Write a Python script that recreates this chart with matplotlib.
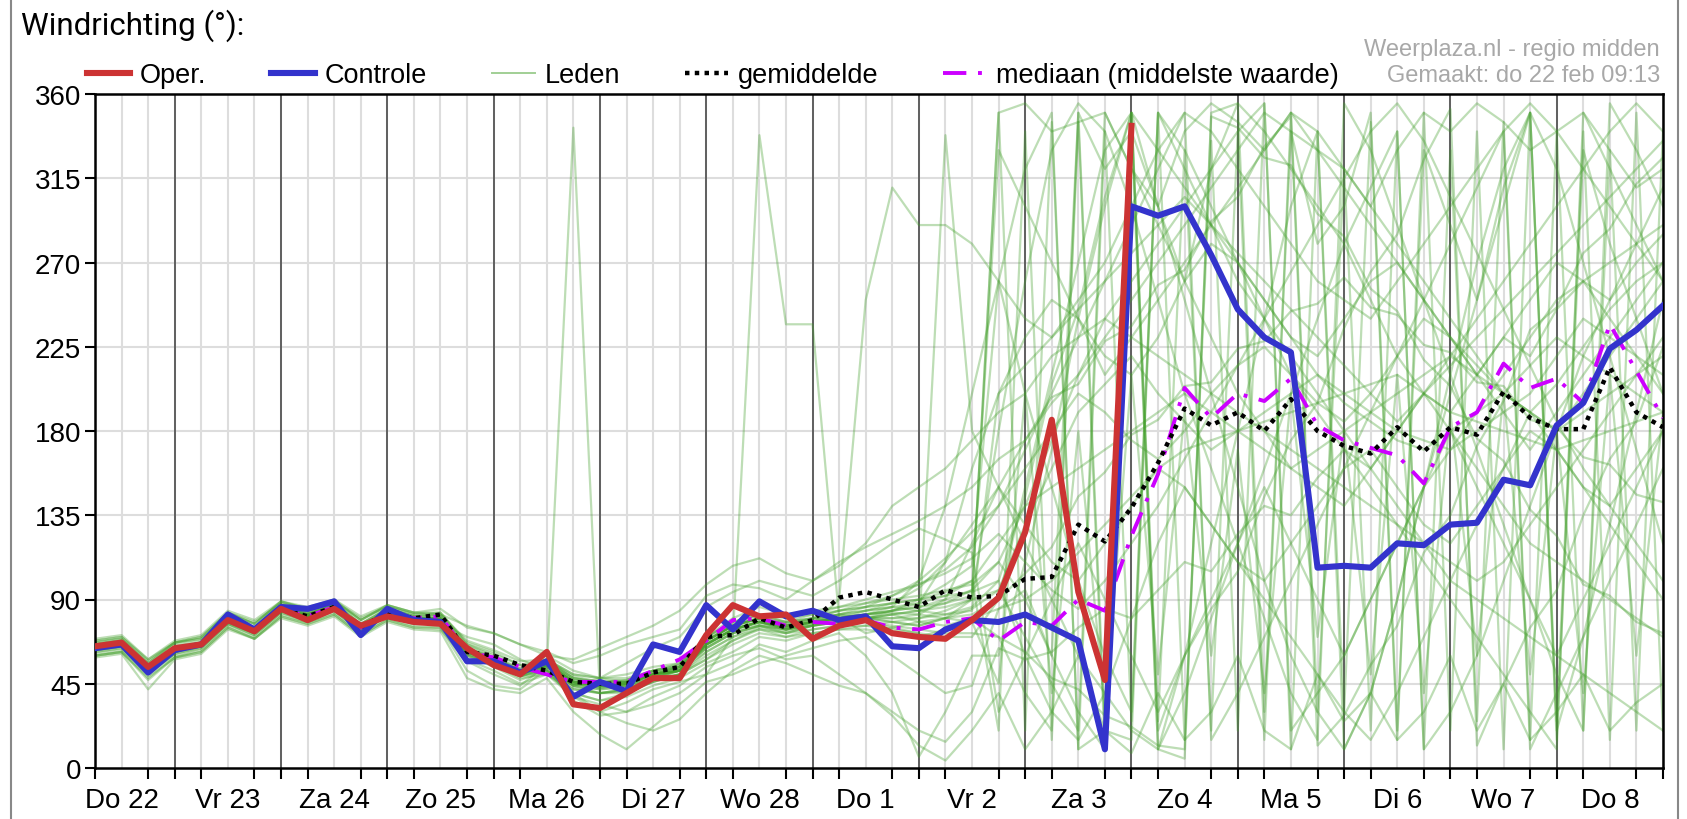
import matplotlib.pyplot as plt
import numpy as np
from matplotlib.lines import Line2D
from matplotlib.ticker import FixedLocator

# tijdstappen in uren vanaf do 22 feb 00:00 (elke 6 uur)
uren = np.arange(6, 361, 6)
dagen = ["Do 22", "Vr 23", "Za 24", "Zo 25", "Ma 26", "Di 27", "Wo 28", "Do 1",
         "Vr 2", "Za 3", "Zo 4", "Ma 5", "Di 6", "Wo 7", "Do 8"]
y_ticks = [0, 45, 90, 135, 180, 225, 270, 315, 360]

# operationele run (10 dagen)
oper = [65, 67, 54, 64, 66, 79, 73, 85, 79, 85, 76, 81, 78, 77, 64, 55, 50, 62, 34, 32,
        40, 48, 48, 71, 87, 81, 82, 69, 76, 79, 72, 70, 69, 79, 91, 126, 186, 94, 47, 343]

controle = [64, 66, 51, 63, 66, 82, 74, 86, 85, 89, 71, 85, 79, 78, 57, 57, 51, 57, 38, 46,
            41, 66, 62, 87, 74, 89, 81, 84, 79, 81, 65, 64, 74, 79, 78, 82, 75, 68, 10, 300,
            295, 300, 274, 245, 230, 222, 107, 108, 107, 120, 119, 130, 131, 154, 151, 183, 195, 224, 234, 247]

gemiddelde = [64, 66, 53, 63, 66, 79, 73, 85, 81, 86, 75, 83, 80, 82, 62, 60, 55, 52, 46, 45,
              45, 51, 54, 70, 71, 80, 75, 79, 91, 94, 90, 86, 95, 91, 92, 101, 102, 130, 121, 139,
              163, 192, 183, 190, 180, 197, 180, 172, 168, 182, 169, 182, 178, 201, 187, 181, 181, 214, 190, 182]

mediaan = [64, 66, 53, 63, 66, 79, 73, 85, 81, 86, 75, 83, 80, 81, 62, 59, 54, 50, 46, 46,
           46, 52, 58, 68, 79, 80, 76, 78, 77, 79, 75, 74, 78, 80, 68, 78, 76, 90, 84, 124,
           157, 203, 187, 200, 196, 208, 183, 175, 171, 167, 152, 182, 190, 216, 203, 208, 195, 237, 212, 187]

# ensembleleden (geschat uit de grafiek)
leden = [
    [63, 67, 51, 62, 65, 80, 72, 86, 82, 87, 74, 84, 80, 80, 60, 54, 47,
     52, 40, 36, 40, 46, 50, 58, 68, 75, 72, 76, 80, 82, 84, 86, 90, 95,
     110, 140, 175, 210, 240, 260, 280, 300, 320, 340, 355, 20, 40, 60, 90, 120, 150, 170, 190, 210, 230, 250, 260, 270, 280, 290],
    [68, 70, 58, 67, 70, 83, 78, 88, 85, 89, 80, 86, 82, 82, 68, 63, 57,
     58, 48, 46, 47, 52, 55, 70, 76, 80, 77, 79, 82, 80, 78, 76, 80, 85,
     95, 130, 160, 190, 205, 220, 200, 185, 170, 180, 190, 200, 210, 195, 185, 175, 170, 180, 190, 200, 215, 230, 220, 210, 200, 190],
    [62, 64, 50, 61, 65, 82, 75, 87, 83, 88, 77, 85, 81, 82, 76, 72, 66,
     62, 56, 60, 66, 70, 74, 92, 98, 96, 90, 100, 110, 118, 125, 132, 140, 150,
     165, 175, 198, 205, 228, 236, 258, 266, 292, 305, 332, 348, 12, 28, 55, 76, 115, 135, 172, 196, 234, 246, 275, 288, 312, 326],
    [64, 67, 52, 63, 66, 79, 73, 84, 81, 85, 75, 83, 79, 79, 63, 57, 49,
     54, 342, 40, 42, 48, 52, 62, 70, 76, 74, 76, 78, 80, 82, 78, 76, 80,
     70, 62, 48, 42, 28, 22, 12, 10, 348, 342, 326, 322, 296, 284, 256, 244, 218, 204, 176, 164, 138, 124, 98, 92, 78, 72],
    [69, 71, 58, 68, 71, 84, 79, 89, 86, 90, 81, 87, 83, 82, 66, 60, 53,
     50, 38, 30, 35, 42, 46, 50, 70, 338, 237, 237, 80, 72, 75, 78, 80, 82,
     90, 104, 118, 145, 158, 178, 186, 204, 206, 224, 228, 244, 248, 262, 246, 242, 226, 222, 206, 204, 186, 182, 166, 162, 146, 142],
    [63, 65, 52, 62, 67, 77, 72, 85, 80, 86, 74, 82, 78, 77, 60, 56, 51,
     56, 47, 44, 44, 48, 50, 66, 74, 78, 74, 77, 90, 250, 310, 290, 290, 280,
     260, 240, 230, 250, 270, 300, 330, 350, 340, 320, 300, 280, 260, 250, 240, 260, 280, 300, 320, 340, 355, 340, 320, 300, 280, 260],
    [65, 66, 54, 64, 66, 80, 74, 85, 82, 86, 76, 83, 79, 80, 64, 59, 53,
     60, 52, 48, 46, 50, 54, 68, 76, 80, 76, 78, 80, 78, 75, 72, 338, 180,
     150, 120, 90, 60, 40, 20, 10, 5, 350, 355, 340, 320, 300, 280, 250, 220, 200, 180, 160, 140, 120, 110, 100, 90, 80, 70],
    [60, 62, 48, 59, 62, 75, 69, 81, 77, 82, 71, 79, 75, 74, 57, 50, 44,
     55, 40, 30, 24, 20, 26, 40, 52, 60, 56, 50, 44, 40, 30, 20, 14, 30,
     64, 58, 62, 75, 85, 80, 95, 110, 105, 125, 140, 135, 155, 170, 160, 180, 200, 190, 210, 230, 220, 245, 260, 250, 270, 285],
    [64, 65, 53, 62, 66, 79, 74, 86, 81, 86, 75, 82, 80, 79, 63, 58, 52,
     58, 50, 48, 50, 54, 56, 70, 80, 86, 82, 84, 86, 88, 90, 92, 95, 98,
     110, 90, 60, 30, 10, 350, 330, 310, 290, 270, 250, 230, 210, 200, 190, 180, 175, 170, 180, 190, 200, 220, 240, 230, 220, 210],
    [59, 61, 42, 58, 61, 74, 69, 80, 76, 81, 70, 78, 74, 73, 48, 42, 40,
     48, 30, 18, 10, 22, 34, 46, 50, 56, 60, 64, 68, 70, 60, 50, 40, 44,
     85, 90, 100, 115, 130, 145, 160, 170, 175, 180, 185, 190, 195, 200, 205, 210, 200, 190, 185, 180, 175, 170, 175, 180, 185, 190],
    [65, 67, 54, 64, 67, 80, 73, 85, 82, 87, 76, 84, 80, 80, 63, 58, 51,
     54, 44, 40, 42, 48, 52, 66, 74, 78, 76, 78, 80, 82, 86, 100, 140, 200,
     260, 320, 350, 10, 20, 15, 350, 320, 290, 260, 240, 220, 200, 180, 160, 140, 120, 100, 90, 80, 70, 60, 50, 40, 30, 20],
    [64, 66, 53, 63, 66, 79, 73, 85, 81, 86, 75, 83, 79, 79, 62, 57, 50,
     56, 46, 44, 46, 52, 54, 68, 76, 80, 78, 80, 84, 86, 88, 90, 92, 94,
     100, 145, 205, 245, 305, 350, 20, 60, 85, 105, 145, 175, 195, 235, 265, 285, 325, 352, 12, 45, 75, 95, 135, 165, 185, 225],
    [60, 62, 47, 59, 63, 76, 70, 82, 78, 83, 72, 80, 76, 75, 52, 44, 42,
     53, 36, 28, 30, 38, 44, 54, 60, 64, 58, 60, 50, 40, 28, 12, 4, 20,
     40, 10, 30, 60, 20, 8, 40, 15, 30, 60, 20, 10, 50, 25, 40, 15, 30, 60, 20, 45, 15, 30, 50, 20, 35, 45],
    [64, 66, 53, 63, 66, 79, 74, 85, 81, 86, 75, 83, 79, 79, 62, 57, 50,
     57, 48, 46, 46, 50, 52, 66, 74, 78, 74, 78, 80, 84, 88, 96, 110, 130,
     150, 175, 195, 210, 230, 250, 270, 290, 310, 330, 350, 340, 330, 320, 300, 280, 260, 240, 220, 200, 190, 180, 200, 220, 240, 260],
    [67, 69, 56, 67, 69, 83, 77, 88, 84, 89, 79, 86, 82, 83, 67, 62, 55,
     55, 46, 44, 45, 50, 52, 66, 74, 78, 75, 78, 80, 80, 78, 76, 80, 90,
     350, 355, 340, 345, 350, 320, 300, 340, 355, 345, 330, 350, 340, 320, 300, 330, 350, 340, 355, 345, 330, 340, 350, 330, 310, 320],
    [63, 66, 52, 63, 65, 78, 72, 84, 80, 85, 74, 82, 78, 78, 61, 56, 49,
     52, 42, 40, 42, 48, 50, 62, 70, 74, 72, 74, 76, 76, 74, 72, 70, 70,
     90, 150, 210, 270, 330, 350, 300, 250, 200, 150, 100, 60, 30, 10, 40, 90, 150, 200, 250, 300, 350, 320, 270, 220, 170, 120],
    [64, 65, 53, 62, 66, 80, 74, 85, 81, 86, 75, 83, 79, 79, 62, 57, 50,
     56, 46, 44, 46, 50, 52, 68, 76, 80, 76, 80, 82, 84, 86, 88, 110, 160,
     200, 230, 250, 240, 220, 210, 230, 260, 280, 270, 250, 230, 220, 240, 260, 270, 250, 230, 210, 230, 250, 270, 260, 240, 220, 200],
    [64, 66, 53, 63, 67, 79, 73, 85, 81, 86, 75, 83, 79, 79, 63, 57, 51,
     55, 45, 43, 44, 50, 52, 64, 72, 76, 74, 76, 78, 80, 80, 82, 90, 120,
     150, 130, 110, 100, 120, 140, 160, 150, 130, 110, 100, 120, 140, 160, 170, 150, 130, 120, 140, 160, 180, 170, 150, 140, 160, 180],
    [68, 70, 57, 67, 69, 82, 77, 89, 85, 89, 79, 87, 83, 85, 75, 72, 66,
     60, 58, 64, 70, 76, 84, 98, 108, 112, 104, 100, 108, 120, 140, 150, 160, 175,
     190, 200, 220, 230, 240, 230, 220, 210, 200, 190, 180, 170, 160, 150, 140, 130, 120, 110, 100, 110, 130, 150, 170, 190, 210, 230],
    [60, 62, 49, 59, 62, 75, 69, 81, 77, 82, 71, 79, 75, 75, 58, 52, 45,
     50, 40, 36, 38, 44, 48, 56, 62, 70, 68, 72, 74, 76, 78, 80, 84, 90,
     95, 70, 45, 20, 350, 320, 290, 260, 230, 200, 180, 160, 150, 140, 160, 180, 200, 220, 240, 260, 280, 300, 320, 340, 355, 340],
    [64, 66, 53, 63, 66, 79, 73, 85, 81, 86, 75, 83, 79, 79, 62, 57, 50,
     55, 45, 44, 45, 50, 52, 66, 74, 78, 75, 78, 80, 82, 84, 86, 88, 92,
     180, 260, 330, 355, 340, 300, 250, 200, 160, 120, 80, 40, 15, 355, 330, 290, 250, 210, 170, 130, 90, 50, 20, 355, 330, 300],
    [64, 66, 52, 63, 66, 80, 73, 85, 81, 86, 75, 83, 79, 79, 62, 57, 50,
     56, 46, 44, 45, 50, 53, 66, 74, 78, 75, 78, 80, 82, 84, 88, 92, 100,
     120, 140, 150, 160, 170, 180, 190, 200, 190, 180, 170, 160, 170, 180, 190, 200, 210, 220, 210, 200, 190, 180, 190, 200, 210, 220],
    [61, 63, 51, 60, 64, 77, 71, 83, 78, 84, 73, 81, 77, 77, 70, 66, 58,
     52, 44, 48, 56, 64, 70, 86, 94, 100, 96, 92, 100, 110, 120, 128, 122, 115,
     30, 60, 90, 120, 90, 60, 30, 60, 90, 120, 150, 120, 90, 60, 90, 120, 150, 180, 150, 120, 90, 60, 90, 120, 150, 180],
    [67, 69, 56, 67, 70, 83, 77, 89, 85, 90, 79, 87, 83, 83, 66, 61, 55,
     58, 50, 48, 48, 52, 55, 70, 78, 82, 80, 82, 84, 86, 88, 90, 94, 100,
     20, 340, 15, 345, 10, 350, 25, 330, 20, 340, 15, 350, 30, 320, 20, 340, 10, 330, 25, 345, 15, 340, 20, 330, 20, 340],
    [64, 66, 53, 63, 66, 79, 73, 85, 81, 86, 75, 83, 79, 79, 62, 57, 50,
     55, 45, 43, 45, 50, 52, 66, 74, 78, 75, 78, 80, 80, 82, 84, 86, 90,
     350, 20, 345, 10, 340, 25, 350, 15, 335, 20, 355, 10, 340, 30, 345, 15, 350, 20, 340, 10, 350, 25, 340, 15, 350, 20],
    [63, 65, 52, 63, 65, 78, 73, 84, 80, 85, 74, 82, 78, 78, 61, 56, 49,
     52, 38, 34, 30, 34, 40, 50, 56, 66, 62, 68, 72, 60, 40, 6, 30, 60,
     60, 110, 170, 240, 300, 350, 10, 60, 120, 180, 240, 300, 340, 10, 40, 90, 150, 210, 270, 320, 350, 20, 70, 130, 190, 250],
    [66, 68, 55, 66, 68, 81, 75, 87, 83, 88, 77, 85, 81, 81, 65, 59, 52,
     57, 48, 45, 46, 51, 54, 68, 76, 82, 78, 80, 84, 88, 92, 98, 106, 118,
     140, 170, 200, 230, 260, 290, 320, 350, 15, 40, 70, 100, 130, 160, 190, 220, 250, 280, 310, 340, 10, 40, 70, 100, 130, 160],
    [62, 64, 51, 61, 64, 77, 71, 83, 79, 84, 73, 81, 77, 77, 60, 55, 48,
     50, 42, 40, 40, 46, 50, 58, 66, 72, 70, 72, 74, 74, 72, 70, 74, 80,
     85, 95, 60, 350, 20, 340, 300, 260, 320, 355, 30, 340, 280, 300, 350, 20, 330, 290, 250, 310, 350, 15, 330, 280, 240, 200],
    [65, 67, 53, 64, 66, 80, 74, 86, 82, 87, 76, 84, 80, 80, 63, 58, 51,
     56, 46, 44, 45, 50, 54, 68, 76, 80, 76, 78, 82, 86, 92, 100, 112, 126,
     140, 160, 180, 200, 190, 175, 165, 180, 200, 215, 225, 210, 195, 185, 200, 220, 240, 230, 215, 200, 190, 205, 225, 245, 260, 270],
    [64, 65, 52, 62, 65, 78, 72, 84, 80, 85, 74, 82, 78, 78, 61, 56, 49,
     53, 43, 40, 41, 46, 50, 60, 68, 74, 70, 74, 76, 78, 76, 74, 72, 72,
     70, 40, 20, 350, 320, 340, 10, 40, 80, 120, 160, 200, 240, 280, 310, 340, 10, 30, 60, 100, 140, 180, 220, 250, 280, 310],
    [66, 68, 54, 65, 67, 80, 75, 87, 83, 88, 77, 85, 81, 81, 64, 59, 52,
     58, 49, 46, 47, 52, 56, 70, 78, 82, 78, 82, 86, 90, 94, 98, 104, 112,
     125, 110, 95, 85, 100, 120, 140, 165, 190, 215, 240, 265, 290, 315, 340, 355, 335, 305, 275, 245, 215, 185, 160, 140, 120, 100],
    [63, 65, 52, 62, 66, 79, 73, 85, 81, 86, 75, 83, 79, 79, 62, 57, 50,
     54, 44, 42, 44, 49, 52, 64, 72, 76, 72, 76, 78, 80, 84, 90, 98, 108,
     260, 200, 150, 100, 60, 30, 350, 330, 300, 270, 240, 210, 190, 170, 150, 130, 110, 90, 70, 50, 30, 10, 350, 320, 290, 260],
    [65, 66, 54, 64, 66, 80, 74, 85, 82, 86, 76, 83, 80, 80, 64, 58, 52,
     57, 47, 45, 46, 51, 54, 68, 76, 80, 77, 80, 82, 84, 86, 84, 82, 84,
     200, 215, 230, 245, 260, 275, 290, 305, 290, 275, 260, 245, 230, 215, 200, 185, 200, 215, 230, 245, 260, 275, 290, 305, 320, 335],
    [64, 66, 53, 63, 66, 79, 73, 85, 81, 86, 75, 83, 79, 79, 62, 57, 50,
     55, 45, 43, 44, 49, 52, 65, 73, 77, 74, 77, 79, 80, 80, 80, 82, 86,
     100, 60, 30, 15, 40, 80, 120, 150, 130, 110, 90, 70, 50, 30, 15, 40, 70, 100, 130, 160, 190, 170, 150, 130, 110, 90],
    [63, 66, 53, 63, 65, 79, 73, 84, 80, 85, 75, 83, 79, 78, 62, 57, 50,
     54, 44, 42, 43, 48, 52, 64, 72, 76, 73, 76, 78, 80, 82, 84, 88, 95,
     330, 300, 270, 240, 210, 230, 250, 270, 290, 310, 330, 350, 330, 310, 290, 270, 250, 230, 210, 190, 170, 190, 210, 230, 250, 270],
    [65, 67, 54, 64, 67, 80, 74, 86, 82, 87, 76, 84, 80, 80, 63, 58, 51,
     56, 46, 44, 45, 50, 53, 67, 75, 79, 76, 79, 81, 82, 83, 82, 80, 78,
     45, 200, 40, 180, 30, 210, 50, 190, 60, 170, 40, 200, 70, 180, 50, 210, 40, 190, 60, 200, 50, 180, 40, 210, 60, 190],
]

W, H = 1687, 820
ROOD = "#cc3333"
BLAUW = "#3333cc"
GROEN = "#44a02c"
PAARS = "#cc00ff"
FONT = "Liberation Sans"

fig = plt.figure(figsize=(W / 100, H / 100), dpi=100)
ax = fig.add_axes([95 / W, 51 / H, (1663 - 95) / W, (769 - 95) / H])

# raster
for h in range(6, 361, 6):
    ax.axvline(h, color="#dddddd", lw=1.5, zorder=0)
for v in y_ticks[1:-1]:
    ax.axhline(v, color="#dddddd", lw=1.5, zorder=0)
for h in range(24, 360, 24):
    ax.axvline(h, color="#555555", lw=1.3, zorder=1)

for m in leden:
    assert len(m) == len(uren)
    ax.plot(uren, m, color=GROEN, lw=1.6, alpha=0.35, zorder=2)

ax.plot(uren, mediaan, color=PAARS, lw=2.8, ls=(0, (6, 3, 1, 3)), zorder=3)
ax.plot(uren, gemiddelde, color="black", lw=3.2, ls=(0, (1, 1.2)), zorder=4)
ax.plot(uren, controle, color=BLAUW, lw=4.4, zorder=5)
ax.plot(uren[:len(oper)], oper, color=ROOD, lw=4.4, zorder=6)

ax.set_xlim(6, 360)
ax.set_ylim(0, 360)
ax.set_yticks(y_ticks)
ax.set_xticks(np.arange(12, 360, 24))
ax.set_xticklabels(dagen)
ax.xaxis.set_minor_locator(FixedLocator(range(6, 361, 6)))
ax.tick_params(axis="x", which="major", length=0, pad=14)
ax.tick_params(axis="x", which="minor", length=8, width=1.5, color="black")
ax.tick_params(axis="y", length=7, width=1.5, pad=3)
for lab in ax.get_xticklabels() + ax.get_yticklabels():
    lab.set_fontfamily(FONT)
    lab.set_fontsize(20)
for s in ax.spines.values():
    s.set_linewidth(1.8)

# legenda
handles = [
    Line2D([], [], color=ROOD, lw=4.4),
    Line2D([], [], color=BLAUW, lw=4.4),
    Line2D([], [], color=GROEN, lw=1.4, alpha=0.5),
    Line2D([], [], color="black", lw=3.2, ls=(0, (1, 1.2))),
    Line2D([], [], color=PAARS, lw=2.8, ls=(0, (6, 3, 1, 3))),
]
labels = ["Oper.", "Controle", "Leden", "gemiddelde", "mediaan (middelste waarde)"]
ax.legend(handles, labels, loc="center left", bbox_to_anchor=(87 / W, 1 - 76 / H),
          bbox_transform=fig.transFigure, ncol=5, frameon=False,
          prop={"family": FONT, "size": 19.5}, handlelength=1.6, handletextpad=0.35,
          columnspacing=2.4, borderpad=0, borderaxespad=0)

fig.text(21 / W, 1 - 26 / H, "Windrichting (°):", fontsize=22.5, family="Roboto", va="center")
fig.text(1660 / W, 1 - 50 / H, "Weerplaza.nl - regio midden", ha="right", va="center",
         color="#a8a8a8", fontsize=17, family=FONT)
fig.text(1660 / W, 1 - 76 / H, "Gemaakt: do 22 feb 09:13", ha="right", va="center",
         color="#a8a8a8", fontsize=17, family=FONT)

fig.add_artist(Line2D([11 / W, 11 / W], [0, 1], color="#888888", lw=1.5))
fig.add_artist(Line2D([1678 / W, 1678 / W], [0, 1], color="#888888", lw=1.5))

plt.savefig("out.png", dpi=100)
